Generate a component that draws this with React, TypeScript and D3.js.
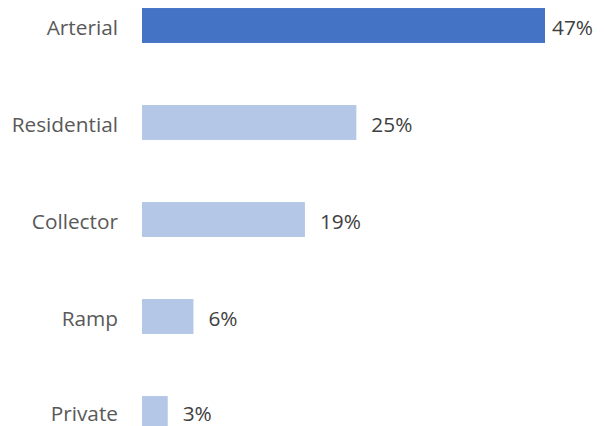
import React from "react";
import * as d3 from "d3";

const categories = ["Arterial", "Residential", "Collector", "Ramp", "Private"];
const values = [47, 25, 19, 6, 3];
const valueLabels = ["47%", "25%", "19%", "6%", "3%"];
const highlight = "Arterial";

const W = 605;
const H = 426;

export default function App() {
  const x = d3.scaleLinear().domain([0, 47]).range([142, 545]);
  const y = d3
    .scaleBand<string>()
    .domain(categories)
    .range([-23, 462])
    .paddingInner(0.64)
    .paddingOuter(0.32);
  const font = "'Open Sans', sans-serif";
  const fs = 20.8;
  return (
    <svg
      width={W}
      height={H}
      style={{ position: "absolute", left: 0, top: 0, background: "#fff" }}
    >
      {categories.map((c, i) => {
        const yy = y(c)!;
        const bw = y.bandwidth();
        const cy = Math.min(yy + bw / 2 + 1, 413);
        const lx = Math.min(x(values[i]) + 15, 552);
        return (
          <g key={c}>
            <rect
              x={x(0)}
              y={yy}
              width={x(values[i]) - x(0)}
              height={bw}
              fill={c === highlight ? "#4472C4" : "#B4C7E7"}
            />
            <text
              x={118}
              y={cy}
              textAnchor="end"
              dominantBaseline="central"
              fontFamily={font}
              fontSize={fs}
              fill="#595959"
            >
              {c}
            </text>
            <text
              x={lx}
              y={cy}
              dominantBaseline="central"
              fontFamily={font}
              fontSize={fs}
              fill="#404040"
            >
              {valueLabels[i]}
            </text>
          </g>
        );
      })}
    </svg>
  );
}
